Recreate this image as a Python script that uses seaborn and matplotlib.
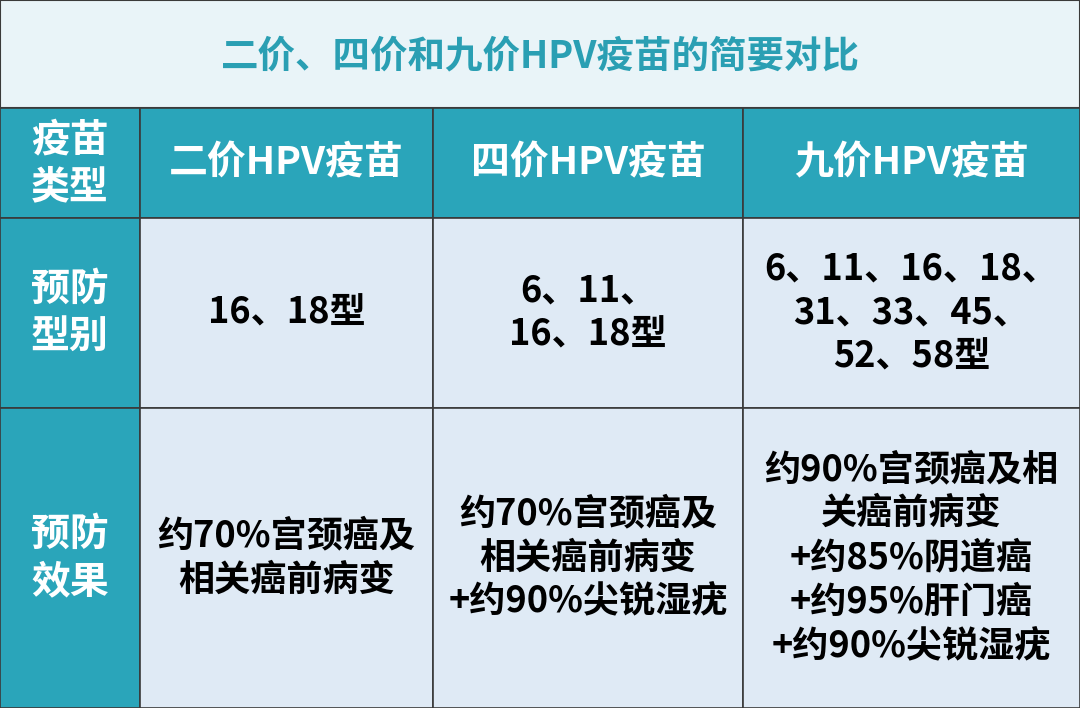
import matplotlib
matplotlib.use("Agg")
import matplotlib.pyplot as plt
from matplotlib.patches import Rectangle
import seaborn as sns

sns.set_theme(style="white", font="Noto Sans CJK SC")

title = "二价、四价和九价HPV疫苗的简要对比"
col_edges = [0, 140, 433, 743, 1080]
row_edges = [108, 218, 408, 708]
header = ["疫苗\n类型", "二价HPV疫苗", "四价HPV疫苗", "九价HPV疫苗"]
row_labels = ["预防\n型别", "预防\n效果"]
types = ["16、18型", "6、11、\n16、18型", "6、11、16、18、\n31、33、45、\n52、58型"]
effects = ["约70%宫颈癌及\n相关癌前病变",
           "约70%宫颈癌及\n相关癌前病变\n+约90%尖锐湿疣",
           "约90%宫颈癌及相\n关癌前病变\n+约85%阴道癌\n+约95%肝门癌\n+约90%尖锐湿疣"]

teal = "#2aa5ba"
light = "#dfeaf5"
title_bg = "#e9f4f8"
title_fg = "#2a9fb3"
edge = "#3a3a3a"

fig = plt.figure(figsize=(10.8, 7.08), dpi=100)
ax = fig.add_axes([0, 0, 1, 1])
ax.set_xlim(0, 1080)
ax.set_ylim(708, 0)
ax.axis("off")

ax.add_patch(Rectangle((0, 0), 1080, 108, facecolor=title_bg, edgecolor=edge, lw=1.5))
ax.text(540, 56, title, ha="center", va="center", color=title_fg, fontsize=27, fontweight="bold")

rows = [header, [row_labels[0]] + types, [row_labels[1]] + effects]
for r, row in enumerate(rows):
    y0, y1 = row_edges[r], row_edges[r + 1] if r + 1 < len(row_edges) else 708
    for c, txt in enumerate(row):
        x0, x1 = col_edges[c], col_edges[c + 1]
        is_head = (r == 0 or c == 0)
        ax.add_patch(Rectangle((x0, y0), x1 - x0, y1 - y0,
                               facecolor=teal if is_head else light,
                               edgecolor=edge, lw=1.2))
        ax.text((x0 + x1) / 2, (y0 + y1) / 2, txt, ha="center", va="center",
                color="white" if is_head else "black",
                fontsize=28 if (r == 0 or c == 0) else 26,
                fontweight="bold", linespacing=1.25)

fig.savefig("out.png", dpi=100)
